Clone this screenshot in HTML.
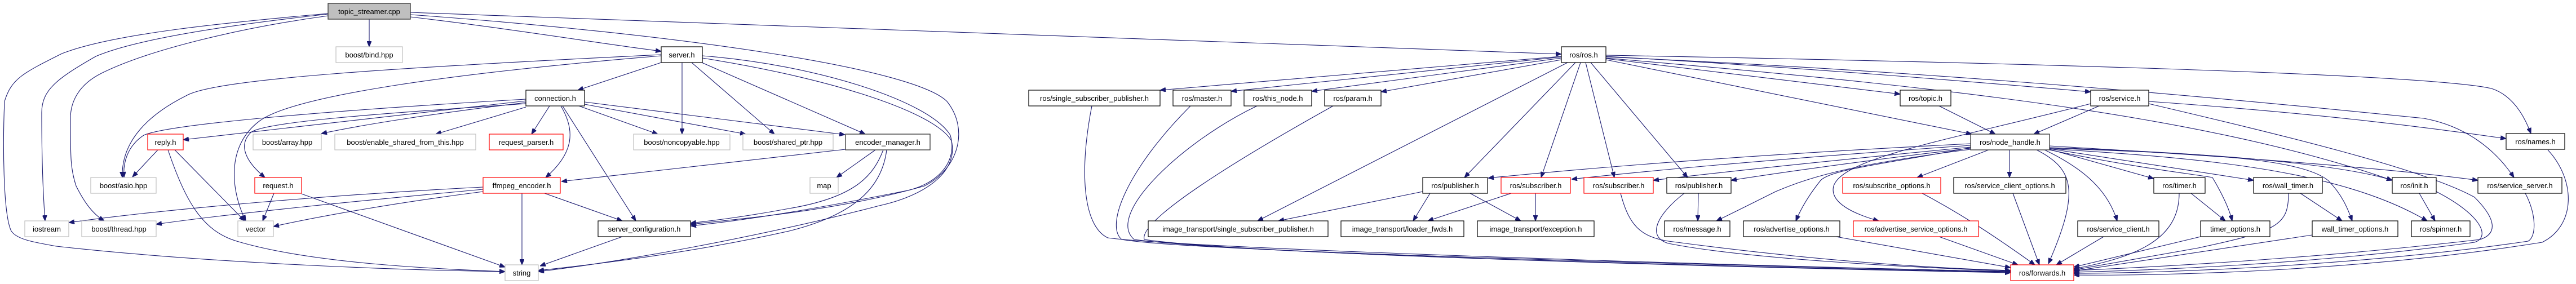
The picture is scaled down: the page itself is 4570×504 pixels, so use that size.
<!DOCTYPE html>
<html><head><meta charset="utf-8"><style>
html,body{margin:0;padding:0;background:#fff;}
svg{display:block;}
text{font-family:"Liberation Sans",Helvetica,sans-serif;font-size:13px;fill:#000;text-anchor:middle;}
.e{fill:none;stroke:#191970;stroke-width:1.1;marker-end:url(#a);}
.g{fill:#fff;stroke:#bfbfbf;stroke-width:1.2;}
.b{fill:#fff;stroke:#000;stroke-width:1.2;}
.r{fill:#fff;stroke:#ff0000;stroke-width:1.2;}
.d{fill:#fff;stroke:#404040;stroke-width:1.4;}
</style></head><body>
<svg width="4570" height="504" viewBox="0 0 4570 504" xmlns="http://www.w3.org/2000/svg">
<defs><marker id="a" markerWidth="10" markerHeight="8" refX="10" refY="4" orient="auto" markerUnits="userSpaceOnUse"><path d="M0,0 L10,4 L0,8 z" fill="#191970" stroke="#191970"/></marker></defs>

<!-- edges from topic_streamer -->
<path class="e" d="M655,34 L655,83"/>
<path class="e" d="M728,30 C900,50 1050,75 1173,91"/>
<path class="e" d="M728,22 C1500,50 2300,80 2770,96"/>
<path class="e" d="M582,24 C400,40 200,60 110,95 C40,130 20,140 8,180 C5,250 5,380 20,410 C30,425 60,430 100,437 C400,470 750,480 896,482"/>
<path class="e" d="M582,25 C400,45 240,70 170,100 C100,140 74,160 74,200 C74,280 76,340 80,392"/>
<path class="e" d="M582,28 C420,50 260,90 180,130 C140,150 125,180 125,210 C125,280 125,300 135,330 C150,360 165,380 185,392"/>
<path class="e" d="M728,26 C1200,60 1620,120 1680,180 C1720,230 1700,300 1640,330 C1500,370 1350,385 1225,398"/>

<!-- server.h -->
<path class="e" d="M1173,97 C700,120 380,140 330,170 C250,210 215,260 217,315"/>
<path class="e" d="M1173,99 C800,130 520,170 460,215 C400,260 410,340 436,392"/>
<path class="e" d="M1173,111 L1025,160"/>
<path class="e" d="M1210,111 L1210,238"/>
<path class="e" d="M1227,111 L1374,238"/>
<path class="e" d="M1245,111 L1535,238"/>
<path class="e" d="M1246,99 C1450,115 1650,180 1686,240 C1700,290 1660,330 1600,340 C1450,370 1330,390 1225,401"/>
<path class="e" d="M1246,103 C1480,140 1660,200 1688,250 C1700,300 1650,345 1560,365 C1350,420 1100,465 955,482"/>

<!-- connection.h -->
<path class="e" d="M933,176 C600,195 300,220 255,240 C225,260 218,290 220,315"/>
<path class="e" d="M933,179 L325,248"/>
<path class="e" d="M933,182 C780,200 650,220 570,237"/>
<path class="e" d="M933,190 L773,238"/>
<path class="e" d="M933,184 C700,200 470,215 445,235 C420,260 440,290 470,315"/>
<path class="e" d="M975,188 L943,238"/>
<path class="e" d="M995,188 C1020,230 1020,270 968,315"/>
<path class="e" d="M998,188 L1128,392"/>
<path class="e" d="M1027,188 L1167,238"/>
<path class="e" d="M1037,185 L1323,238"/>
<path class="e" d="M1037,181 L1499,239"/>

<!-- reply.h -->
<path class="e" d="M280,266 L235,314"/>
<path class="e" d="M310,266 L434,392"/>
<path class="e" d="M298,266 C330,360 360,410 420,428 C560,470 800,478 896,482"/>
<!-- request.h -->
<path class="e" d="M486,343 L466,392"/>
<path class="e" d="M535,344 L896,474"/>
<!-- ffmpeg -->
<path class="e" d="M857,332 C600,345 300,370 122,395"/>
<path class="e" d="M857,336 C650,355 400,380 277,398"/>
<path class="e" d="M857,340 C700,360 560,385 485,402"/>
<path class="e" d="M926,343 L926,470"/>
<path class="e" d="M966,343 L1104,392"/>
<!-- encoder_manager -->
<path class="e" d="M1500,265 L996,322"/>
<path class="e" d="M1553,266 L1484,315"/>
<path class="e" d="M1567,266 C1550,310 1520,350 1400,370 C1320,385 1260,392 1225,396"/>
<path class="e" d="M1573,266 C1565,330 1520,380 1400,410 C1200,455 1000,475 955,480"/>
<path class="e" d="M1104,420 L958,472"/>

<!-- ros/ros.h -->
<path class="e" d="M2770,100 L2058,160"/>
<path class="e" d="M2770,101 L2184,162"/>
<path class="e" d="M2770,103 L2327,162"/>
<path class="e" d="M2770,106 L2450,163"/>
<path class="e" d="M2781,111 L2231,392"/>
<path class="e" d="M2795,111 L2598,315"/>
<path class="e" d="M2804,111 L2734,315"/>
<path class="e" d="M2813,111 L2864,315"/>
<path class="e" d="M2822,111 L2994,315"/>
<path class="e" d="M2849,104 L3371,167"/>
<path class="e" d="M2849,106 L3498,238"/>
<path class="e" d="M2849,100 C3200,120 3500,145 3709,163"/>
<path class="e" d="M2849,98 C3500,110 4300,130 4420,157 C4460,170 4480,210 4490,237"/>
<path class="e" d="M2849,101 C3500,130 4000,180 4300,210 C4380,225 4430,270 4460,315"/>
<path class="e" d="M2849,103 C3400,150 3900,200 4244,320"/>
<!-- topic.h -->
<path class="e" d="M3440,188 L3540,238"/>
<!-- service.h -->
<path class="e" d="M3724,188 L3608,238"/>
<path class="e" d="M3709,184 C3450,250 3270,280 3253,330 C3245,360 3290,380 3333,392"/>
<path class="e" d="M3812,180 C4100,200 4300,225 4446,246"/>
<path class="e" d="M3812,184 C4050,240 4300,300 4390,350 C4430,390 4430,415 4400,425 C4100,460 3800,475 3679,480"/>

<!-- node_handle -->
<path class="e" d="M3496,255 C3200,270 2900,290 2640,316"/>
<path class="e" d="M3496,258 C3250,275 3000,295 2788,318"/>
<path class="e" d="M3496,261 C3300,280 3100,300 2933,320"/>
<path class="e" d="M3496,263 C3350,280 3200,300 3071,320"/>
<path class="e" d="M3496,265 C3300,290 3220,310 3150,340 C3100,365 3070,380 3045,392"/>
<path class="e" d="M3496,262 C3350,290 3250,300 3230,320 C3210,345 3195,370 3186,392"/>
<path class="e" d="M3528,266 L3401,315"/>
<path class="e" d="M3565,266 L3565,315"/>
<path class="e" d="M3613,266 C3680,300 3690,340 3634,468"/>
<path class="e" d="M3623,264 C3700,300 3740,340 3756,392"/>
<path class="e" d="M3636,265 L3821,317"/>
<path class="e" d="M3636,266 C3800,300 3900,310 3925,315 C3940,340 3955,370 3960,392"/>
<path class="e" d="M3636,264 L3998,320"/>
<path class="e" d="M3636,263 C3900,272 4080,280 4130,320 C4155,345 4165,370 4173,392"/>
<path class="e" d="M3636,262 C3900,270 4150,290 4244,320"/>
<path class="e" d="M3636,264 C3900,280 4150,300 4306,392"/>
<path class="e" d="M3636,259 C4000,280 4250,300 4396,320"/>

<!-- to forwards -->
<path class="e" d="M1937,188 C1915,300 1920,400 1965,422 C2100,440 3000,470 3567,482"/>
<path class="e" d="M2112,188 C2000,300 1960,400 1990,425 C2100,445 3000,470 3567,482"/>
<path class="e" d="M2230,188 C2100,250 1960,380 2012,425 C2200,450 3000,472 3567,483"/>
<path class="e" d="M2365,188 C2200,280 2020,390 2030,425 C2200,450 3000,473 3567,484"/>
<path class="e" d="M2875,343 C2890,400 2910,420 2960,428 C3200,460 3400,475 3567,480"/>
<path class="e" d="M2988,343 C2940,380 2920,420 2960,432 C3100,460 3400,475 3567,481"/>
<path class="e" d="M3257,420 L3567,475"/>
<path class="e" d="M3440,420 L3580,470"/>
<path class="e" d="M3410,343 C3480,380 3540,420 3610,470"/>
<path class="e" d="M3571,343 L3618,470"/>
<path class="e" d="M3732,420 L3648,470"/>
<path class="e" d="M3866,343 C3866,420 3800,455 3679,477"/>
<path class="e" d="M3887,343 L3948,392"/>
<path class="e" d="M3904,420 L3679,474"/>
<path class="e" d="M4060,343 C4060,400 4040,410 3900,440 L3679,479"/>
<path class="e" d="M4081,343 L4155,392"/>
<path class="e" d="M4102,417 L3679,481"/>
<path class="e" d="M4292,343 L4320,392"/>
<path class="e" d="M4322,340 C4400,380 4420,420 4390,430 C4100,470 3800,480 3679,483"/>
<path class="e" d="M4480,343 C4500,380 4500,420 4485,428 C4200,470 3850,485 3679,485"/>
<path class="e" d="M4520,266 C4570,320 4570,400 4510,430 C4200,480 3850,490 3679,488"/>
<!-- publisher/subscriber -->
<path class="e" d="M2524,340 L2268,392"/>
<path class="e" d="M2537,343 L2507,392"/>
<path class="e" d="M2608,343 L2698,392"/>
<path class="e" d="M2681,343 L2533,392"/>
<path class="e" d="M2724,343 L2724,392"/>
<path class="e" d="M3013,343 L3012,392"/>

<!-- nodes -->
<rect x="582" y="6" width="146" height="28" fill="#bfbfbf" stroke="#404040" stroke-width="1.4"/><text x="655" y="25">topic_streamer.cpp</text>
<rect class="g" x="596" y="83" width="118" height="28"/><text x="655" y="102">boost/bind.hpp</text>
<rect class="b" x="1173" y="83" width="73" height="28"/><text x="1209.5" y="102">server.h</text>
<rect class="b" x="2770" y="83" width="79" height="28"/><text x="2809.5" y="102">ros/ros.h</text>
<rect class="b" x="933" y="160" width="104" height="28"/><text x="985" y="179">connection.h</text>
<rect class="b" x="1825" y="160" width="233" height="28"/><text x="1941.5" y="179">ros/single_subscriber_publisher.h</text>
<rect class="b" x="2081" y="160" width="103" height="28"/><text x="2132.5" y="179">ros/master.h</text>
<rect class="b" x="2207" y="160" width="120" height="28"/><text x="2267" y="179">ros/this_node.h</text>
<rect class="b" x="2350" y="160" width="100" height="28"/><text x="2400" y="179">ros/param.h</text>
<rect class="b" x="3371" y="160" width="90" height="28"/><text x="3416" y="179">ros/topic.h</text>
<rect class="b" x="3709" y="160" width="103" height="28"/><text x="3760.5" y="179">ros/service.h</text>
<rect class="r" x="262" y="238" width="63" height="28"/><text x="293.5" y="257">reply.h</text>
<rect class="g" x="449" y="238" width="121" height="28"/><text x="509.5" y="257">boost/array.hpp</text>
<rect class="g" x="594" y="238" width="250" height="28"/><text x="719" y="257">boost/enable_shared_from_this.hpp</text>
<rect class="r" x="868" y="238" width="131" height="28"/><text x="933.5" y="257">request_parser.h</text>
<rect class="g" x="1124" y="238" width="171" height="28"/><text x="1209.5" y="257">boost/noncopyable.hpp</text>
<rect class="g" x="1318" y="238" width="160" height="28"/><text x="1398" y="257">boost/shared_ptr.hpp</text>
<rect class="d" x="1500" y="238" width="150" height="28"/><text x="1575" y="257">encoder_manager.h</text>
<rect class="d" x="3496" y="238" width="140" height="28"/><text x="3566" y="257">ros/node_handle.h</text>
<rect class="b" x="4446" y="237" width="104" height="28"/><text x="4498" y="256">ros/names.h</text>
<rect class="g" x="161" y="315" width="116" height="28"/><text x="219" y="334">boost/asio.hpp</text>
<rect class="r" x="452" y="315" width="83" height="28"/><text x="493.5" y="334">request.h</text>
<rect class="r" x="857" y="315" width="137" height="28"/><text x="925.5" y="334">ffmpeg_encoder.h</text>
<rect class="g" x="1437" y="315" width="50" height="28"/><text x="1462" y="334">map</text>
<rect class="b" x="2524" y="315" width="115" height="28"/><text x="2581.5" y="334">ros/publisher.h</text>
<rect class="r" x="2663" y="315" width="123" height="28"/><text x="2724.5" y="334">ros/subscriber.h</text>
<rect class="r" x="2810" y="315" width="123" height="28"/><text x="2871.5" y="334">ros/subscriber.h</text>
<rect class="b" x="2957" y="315" width="114" height="28"/><text x="3014" y="334">ros/publisher.h</text>
<rect class="r" x="3269" y="315" width="174" height="28"/><text x="3356" y="334">ros/subscribe_options.h</text>
<rect class="b" x="3466" y="315" width="199" height="28"/><text x="3565.5" y="334">ros/service_client_options.h</text>
<rect class="b" x="3821" y="315" width="91" height="28"/><text x="3866.5" y="334">ros/timer.h</text>
<rect class="b" x="3998" y="315" width="122" height="28"/><text x="4059" y="334">ros/wall_timer.h</text>
<rect class="b" x="4244" y="315" width="78" height="28"/><text x="4283" y="334">ros/init.h</text>
<rect class="b" x="4396" y="315" width="149" height="28"/><text x="4470.5" y="334">ros/service_server.h</text>
<rect class="g" x="44" y="392" width="78" height="28"/><text x="83" y="411">iostream</text>
<rect class="g" x="145" y="392" width="132" height="28"/><text x="211" y="411">boost/thread.hpp</text>
<rect class="g" x="422" y="392" width="63" height="28"/><text x="453.5" y="411">vector</text>
<rect class="b" x="1061" y="392" width="164" height="28"/><text x="1143" y="411">server_configuration.h</text>
<rect class="b" x="2037" y="392" width="319" height="28"/><text x="2196.5" y="411">image_transport/single_subscriber_publisher.h</text>
<rect class="b" x="2379" y="392" width="218" height="28"/><text x="2488" y="411">image_transport/loader_fwds.h</text>
<rect class="b" x="2621" y="392" width="207" height="28"/><text x="2724.5" y="411">image_transport/exception.h</text>
<rect class="b" x="2953" y="392" width="116" height="28"/><text x="3011" y="411">ros/message.h</text>
<rect class="b" x="3093" y="392" width="171" height="28"/><text x="3178.5" y="411">ros/advertise_options.h</text>
<rect class="r" x="3288" y="392" width="222" height="28"/><text x="3399" y="411">ros/advertise_service_options.h</text>
<rect class="b" x="3686" y="392" width="144" height="28"/><text x="3758" y="411">ros/service_client.h</text>
<rect class="b" x="3904" y="392" width="123" height="28"/><text x="3965.5" y="411">timer_options.h</text>
<rect class="b" x="4102" y="392" width="152" height="28"/><text x="4178" y="411">wall_timer_options.h</text>
<rect class="b" x="4278" y="392" width="104" height="28"/><text x="4330" y="411">ros/spinner.h</text>
<rect class="g" x="896" y="470" width="59" height="28"/><text x="925.5" y="489">string</text>
<rect class="r" x="3567" y="470" width="112" height="28"/><text x="3623" y="489">ros/forwards.h</text>
</svg>
</body></html>
